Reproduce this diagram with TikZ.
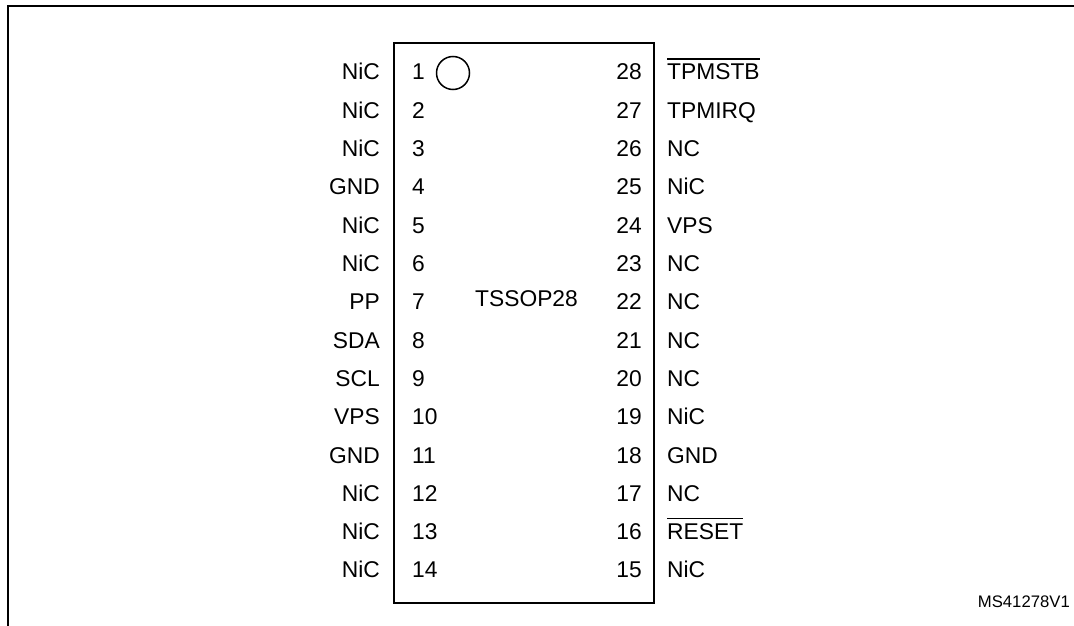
\documentclass[tikz,border=0pt]{standalone}
\usepackage{fontspec}
\setmainfont{Liberation Sans}
\begin{document}
\begin{tikzpicture}[x=1pt,y=-1pt,
  lbl/.style={inner sep=0pt,font=\fontsize{22.8}{24}\selectfont},
  lbll/.style={lbl,anchor=base east},
  lblr/.style={lbl,anchor=base west},
  frame/.style={line width=2pt,draw=black},
  chip/.style={line width=2.2pt,draw=black},
  ovl/.style={line width=1.5pt},
]
\useasboundingbox (0,0) rectangle (1074,626);
% outer frame (partially visible)
\draw[frame] (8,626) -- (8,6) -- (1074,6);
% chip body
\node[chip,minimum width=260pt,minimum height=560pt,inner sep=0pt,anchor=north west] (body) at (393,42) {};
\node[draw,circle,line width=1.5pt,minimum size=33pt,inner sep=0pt] (dot) at (453,73) {};
\node[lbl,anchor=base west] (name) at (475,306) {TSSOP28};
% left pins
\foreach \n/\t in {1/NiC,2/NiC,3/NiC,4/GND,5/NiC,6/NiC,7/PP,8/SDA,9/SCL,10/VPS,11/GND,12/NiC,13/NiC,14/NiC}{
  \pgfmathsetmacro{\yy}{80+(\n-1)*38.3}
  \node[lbll] (ll\n) at (380,\yy) {\t};
  \node[lblr] (ln\n) at (412,\yy) {\n};
}
% right pins
\foreach \n/\t in {28/TPMSTB,27/TPMIRQ,26/NC,25/NiC,24/VPS,23/NC,22/NC,21/NC,20/NC,19/NiC,18/GND,17/NC,16/RESET,15/NiC}{
  \pgfmathsetmacro{\yy}{80+(28-\n)*38.3}
  \node[lbll] (rn\n) at (642,\yy) {\n};
  \node[lblr] (rl\n) at (667,\yy) {\t};
}
% overlines (active-low signals)
\draw[ovl] ([yshift=5pt]rl28.north west) -- ([yshift=5pt]rl28.north east);
\draw[ovl] ([yshift=5pt]rl16.north west) -- ([yshift=5pt]rl16.north east);
\node[inner sep=0pt,anchor=base east,font=\fontsize{16.7}{18}\selectfont] (ref) at (1070,607) {MS41278V1};
\end{tikzpicture}
\end{document}
